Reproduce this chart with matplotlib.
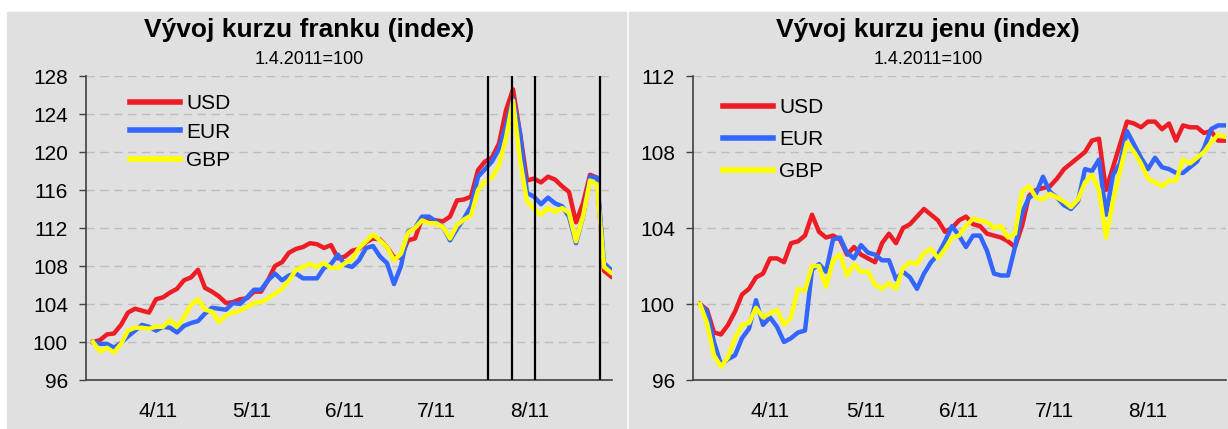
import matplotlib
matplotlib.use("Agg")
import matplotlib.pyplot as plt
from matplotlib.patches import Rectangle
from matplotlib.lines import Line2D

plt.rcParams['font.family'] = ['Liberation Sans', 'DejaVu Sans']

# frank (CHF) index, 1.4.2011 = 100
chf_usd = [100.0, 100.2, 100.8, 100.9, 101.8, 103.1, 103.5, 103.3, 103.1, 104.5,
           104.7, 105.2, 105.6, 106.5, 106.8, 107.6, 105.7, 105.3, 104.8, 104.1,
           104.2, 104.5, 104.6, 105.3, 105.3, 106.5, 108.0, 108.4, 109.4, 109.8,
           110.0, 110.4, 110.3, 109.9, 110.2, 108.8, 109.0, 109.6, 109.8, 110.5,
           110.9, 110.8, 110.0, 108.9, 108.9, 110.7, 110.9, 113.0, 112.8, 112.8,
           112.7, 113.2, 114.9, 115.0, 115.3, 118.1, 119.0, 119.4, 120.9, 124.4,
           126.6, 122.0, 117.0, 117.2, 116.8, 117.4, 117.1, 116.4, 115.8, 112.6,
           114.6, 117.6, 117.3, 107.5, 106.9]
chf_eur = [100.0, 99.8, 99.8, 99.4, 99.9, 100.6, 101.2, 101.8, 101.6, 101.2,
           101.6, 101.5, 101.0, 101.7, 102.0, 102.2, 103.0, 103.6, 103.5, 103.4,
           104.1, 104.0, 104.7, 105.5, 105.5, 106.5, 107.2, 106.5, 107.0, 107.2,
           106.7, 106.7, 106.7, 107.8, 108.2, 109.2, 108.1, 107.9, 108.6, 109.9,
           110.1, 109.0, 108.3, 106.1, 108.0, 111.6, 112.0, 113.2, 113.2, 112.7,
           112.1, 110.7, 111.9, 113.0, 114.3, 117.4, 118.2, 119.0, 120.3, 122.8,
           125.6, 122.0, 115.7, 115.3, 114.5, 115.2, 114.6, 114.3, 113.2, 110.4,
           113.2, 117.4, 117.3, 108.3, 107.6]
chf_gbp = [100.0, 99.0, 99.4, 98.9, 99.8, 101.2, 101.5, 101.5, 101.4, 101.6,
           101.6, 102.3, 101.6, 102.6, 103.9, 104.5, 103.4, 103.2, 102.1, 102.8,
           103.1, 103.3, 103.7, 104.1, 104.2, 104.6, 105.1, 105.6, 106.5, 107.6,
           107.9, 108.2, 107.9, 108.3, 107.8, 107.8, 108.3, 108.7, 109.9, 110.6,
           111.3, 110.7, 110.0, 108.6, 109.3, 111.5, 112.0, 112.8, 112.5, 112.5,
           112.1, 110.9, 112.3, 112.9, 113.3, 116.0, 116.9, 117.3, 118.6, 121.5,
           125.4, 119.2, 114.8, 114.0, 113.4, 114.1, 113.7, 114.1, 113.6, 110.6,
           113.2, 117.0, 116.6, 107.9, 107.3]

# yen (JPY) index, 1.4.2011 = 100
jpy_usd = [100.0, 99.7, 98.5, 98.4, 98.9, 99.6, 100.5, 100.8, 101.4, 101.6,
           102.4, 102.4, 102.2, 103.2, 103.3, 103.6, 104.7, 103.8, 103.5, 103.6,
           103.4, 102.6, 103.0, 102.6, 102.4, 102.2, 103.2, 103.7, 103.2, 104.0,
           104.2, 104.6, 105.0, 104.7, 104.4, 103.8, 104.0, 104.4, 104.6, 104.2,
           104.1, 103.7, 103.6, 103.5, 103.3, 103.0, 104.1, 105.7, 106.0, 106.1,
           106.2, 106.6, 107.1, 107.4, 107.7, 108.0, 108.6, 108.7, 106.0, 107.2,
           108.4, 109.6, 109.5, 109.3, 109.6, 109.6, 109.2, 109.5, 108.6, 109.4,
           109.3, 109.3, 109.0, 109.1, 108.6, 108.6]
jpy_eur = [100.0, 99.6, 98.0, 96.8, 97.1, 97.3, 98.2, 98.7, 100.2, 98.9,
           99.3, 98.8, 98.0, 98.2, 98.5, 98.6, 101.8, 102.1, 101.7, 103.4,
           103.5, 102.7, 102.4, 103.1, 102.7, 102.6, 102.3, 102.3, 101.3, 101.7,
           101.4, 100.8, 101.6, 102.2, 102.6, 103.3, 104.1, 103.6, 103.0, 103.6,
           103.6, 102.8, 101.6, 101.5, 101.5, 103.0, 104.8, 105.6, 105.8, 106.7,
           105.9, 105.6, 105.2, 105.0, 105.4, 107.1, 107.0, 107.6, 104.7, 106.8,
           107.4, 109.1, 108.4, 107.7, 107.1, 107.7, 107.2, 107.1, 106.9, 106.9,
           107.2, 107.5, 108.2, 109.2, 109.4, 109.4]
jpy_gbp = [100.0, 99.0, 97.3, 96.7, 97.2, 98.2, 98.9, 99.0, 99.8, 99.3,
           99.5, 99.7, 98.9, 99.3, 100.8, 100.7, 102.0, 102.0, 100.9, 102.3,
           102.6, 101.5, 102.1, 101.7, 101.7, 101.0, 100.8, 101.1, 100.8, 101.9,
           102.2, 102.1, 102.7, 102.9, 102.4, 102.9, 103.5, 103.6, 104.1, 104.5,
           104.4, 104.3, 104.0, 104.1, 103.5, 103.7, 105.9, 106.2, 105.6, 105.5,
           105.8, 105.6, 105.4, 105.1, 105.5, 106.4, 106.8, 106.0, 103.5, 105.4,
           107.0, 108.5, 108.0, 107.4, 106.6, 106.4, 106.2, 106.5, 106.5, 107.6,
           107.4, 107.7, 108.0, 108.5, 108.9, 108.8]

series_names = ['USD', 'EUR', 'GBP']
series_colors = ['#ee1c24', '#3366ff', '#ffff00']

month_labels = ['4/11', '5/11', '6/11', '7/11', '8/11']
chf_month_pos = [9.3, 22.7, 36.0, 49.1, 62.4]
jpy_month_pos = [10.0, 23.7, 36.9, 50.7, 64.0]
chf_events = [56.4, 59.9, 63.1, 72.4]

W, H = 1228, 429
fig = plt.figure(figsize=(W / 100, H / 100), dpi=100)
fig.patch.set_facecolor('white')
bg = '#e0e0e0'
fig.patches.append(Rectangle((7 / W, 0), (626 - 7) / W, (H - 12) / H,
                             transform=fig.transFigure, color=bg, zorder=-5))
fig.patches.append(Rectangle((629 / W, 0), (W - 629) / W, (H - 12) / H,
                             transform=fig.transFigure, color=bg, zorder=-5))


def make_axes(x0, x1, data, ylim, month_pos, title, cx, leg_anchor, leg_space):
    ax = fig.add_axes([x0 / W, 1 - 380 / H, (x1 - x0) / W, 304 / H])
    ax.set_facecolor(bg)
    n = len(data[0])
    xs = list(range(n))
    for vals, name, col in zip(data, series_names, series_colors):
        ax.plot(xs, vals, color=col, lw=3.2, label=name, solid_joinstyle='round')
    ax.set_xlim(-1, n - 1 + (x1 - x0 - 7 - 7 * (n - 1)) / 7)
    ax.set_ylim(*ylim)
    ax.set_yticks(range(ylim[0], ylim[1] + 1, 4))
    for y in range(ylim[0] + 4, ylim[1] + 1, 4):
        ax.axhline(y, color='#bdbdbd', lw=1, ls=(0, (6, 4)), zorder=0)
    ax.set_xticks(month_pos)
    ax.set_xticklabels(month_labels)
    ax.tick_params(axis='x', length=0, pad=16, labelsize=15)
    ax.tick_params(axis='y', length=5, width=1, pad=8, labelsize=15,
                   color='#404040')
    for s in ['top', 'right']:
        ax.spines[s].set_visible(False)
    for s in ['left', 'bottom']:
        ax.spines[s].set_color('#404040')
        ax.spines[s].set_linewidth(1.2)
    handles = [Line2D([], [], color=c, lw=4) for c in series_colors]
    ax.legend(handles, series_names, loc='upper left', bbox_to_anchor=leg_anchor,
              frameon=False, fontsize=15, handlelength=2.4, handletextpad=0.3,
              labelspacing=leg_space, borderpad=0, borderaxespad=0)
    fig.text(cx / W, 1 - 30 / H, title, ha='center', va='center',
             fontsize=19, fontweight='bold')
    fig.text(cx / W, 1 - 59 / H, '1.4.2011=100', ha='center', va='center',
             fontsize=13)
    return ax


ax1 = make_axes(86, 612, [chf_usd, chf_eur, chf_gbp], (96, 128), chf_month_pos,
                'Vývoj kurzu franku (index)', 309, (0.0837, 0.940), 0.45)
for xv in chf_events:
    ax1.axvline(xv, color='black', lw=1.6, zorder=5)

ax2 = make_axes(693, 1226, [jpy_usd, jpy_eur, jpy_gbp], (96, 112), jpy_month_pos,
                'Vývoj kurzu jenu (index)', 928, (0.0563, 0.927), 0.62)

fig.savefig('out.png', dpi=100, facecolor=fig.get_facecolor())
